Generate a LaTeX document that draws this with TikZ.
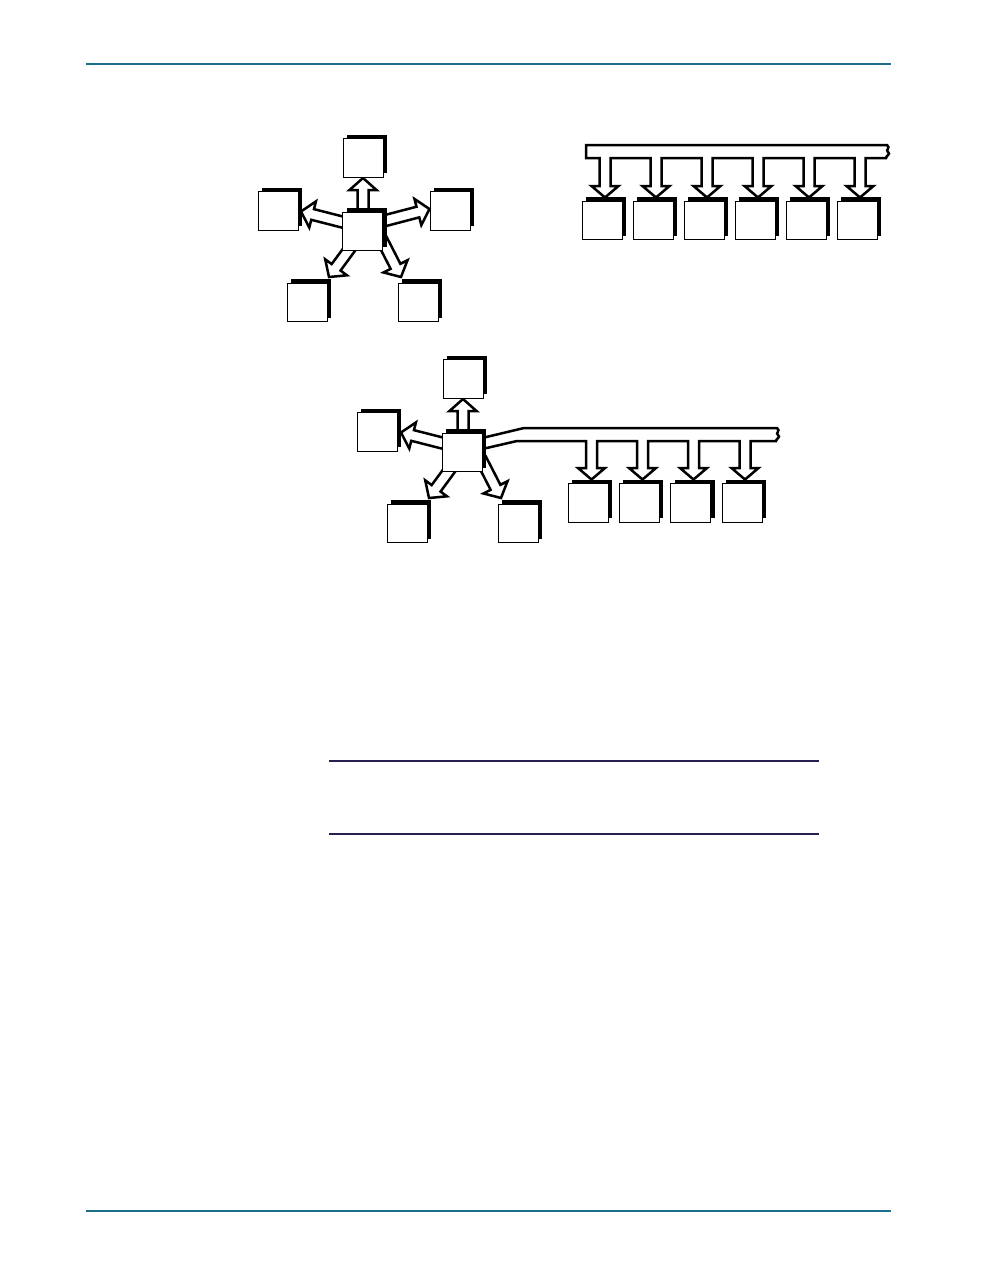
\documentclass[tikz,border=0pt]{standalone}
\usetikzlibrary{calc,shadows}
\definecolor{tealrule}{HTML}{1D6E8A}
\definecolor{navyrule}{HTML}{25204F}
\tikzset{
  unitbox/.style={draw=black, line width=0.9pt, fill=white, minimum width=40pt,
    minimum height=38.5pt, inner sep=0pt,
    drop shadow={shadow xshift=4pt, shadow yshift=4pt, opacity=1, fill=black}},
  blockarr/.style={draw=black, fill=white, line width=2.5pt, line join=miter, miter limit=10},
  busline/.style={draw=black, fill=white, line width=2.5pt, line join=miter, miter limit=10},
  pagerule/.style={draw=tealrule, line width=1.5pt},
  tablerule/.style={draw=navyrule, line width=1.2pt}
}
\newcommand\blockarrow[2]{%
  \coordinate (ba-h) at ($(#2)!12pt!(#1)$);
  \draw[blockarr] ($(#1)!5.5pt!90:(#2)$) -- ($(ba-h)!5.5pt!90:(#2)$) -- ($(ba-h)!13.5pt!90:(#2)$)
    -- (#2) -- ($(ba-h)!13.5pt!-90:(#2)$) -- ($(ba-h)!5.5pt!-90:(#2)$) -- ($(#1)!5.5pt!-90:(#2)$) -- cycle;}
\begin{document}
\begin{tikzpicture}[x=1pt,y=-1pt]
\useasboundingbox[fill=white] (0,0) rectangle (990,1278);
% page rules
\coordinate (tl) at (86,64); \coordinate (tr) at (891,64);
\coordinate (bl) at (86,1211); \coordinate (br) at (891,1211);
\draw[pagerule] (tl) -- (tr);
\draw[pagerule] (bl) -- (br);
\coordinate (m1l) at (329,761); \coordinate (m1r) at (819,761);
\coordinate (m2l) at (329,834); \coordinate (m2r) at (819,834);
\draw[tablerule] (m1l) -- (m1r);
\draw[tablerule] (m2l) -- (m2r);

% ---------- star 1 ----------
\coordinate (s1up) at (363,220);   \coordinate (s1upt) at (363,178);
\coordinate (s1lf) at (350,224);   \coordinate (s1lft) at (301,211.5);
\coordinate (s1rt) at (376,223);   \coordinate (s1rtt) at (429.5,209);
\coordinate (s1bl) at (352.5,245); \coordinate (s1blt) at (329,277);
\coordinate (s1br) at (381,238);   \coordinate (s1brt) at (401,277);
\blockarrow{s1up}{s1upt}
\blockarrow{s1lf}{s1lft}
\blockarrow{s1rt}{s1rtt}
\blockarrow{s1bl}{s1blt}
\blockarrow{s1br}{s1brt}
\node[unitbox] (t1) at (363,158) {};
\node[unitbox] (c1) at (362.5,231.5) {};
\node[unitbox] (l1) at (278,211) {};
\node[unitbox] (r1) at (450,211) {};
\node[unitbox] (bl1) at (307,302.5) {};
\node[unitbox] (br1) at (418,302.5) {};

% ---------- bus 1 ----------
\draw[busline] (586,145) -- (887,145)
  .. controls (891,148) and (885,150) .. (888,152)
  .. controls (891,154) and (886,156) .. (886,158)
  foreach \c in {860,809,758,707,656,605} {
    -- ({\c+5.5},158) -- ({\c+5.5},186) -- ({\c+13.5},186) -- (\c,197.5)
    -- ({\c-13.5},186) -- ({\c-5.5},186) -- ({\c-5.5},158) }
  -- (586,158) -- cycle;
\foreach \i/\x in {1/602,2/653,3/704,4/755,5/806,6/857}
  \node[unitbox] (d1\i) at (\x,220.5) {};

% ---------- star 2 ----------
\coordinate (s2up) at (463,441);   \coordinate (s2upt) at (463,399);
\coordinate (s2lf) at (450,445);   \coordinate (s2lft) at (401,432.5);
\coordinate (s2bl) at (452.5,466); \coordinate (s2blt) at (429,498);
\coordinate (s2br) at (481,459);   \coordinate (s2brt) at (501,498);
\blockarrow{s2up}{s2upt}
\blockarrow{s2lf}{s2lft}
\blockarrow{s2bl}{s2blt}
\blockarrow{s2br}{s2brt}

% ---------- bus 2 ----------
\draw[busline] (478,439) -- (524,428) -- (777,428)
  .. controls (781,431) and (775,433) .. (778,435)
  .. controls (781,437) and (776,439) .. (776,441)
  foreach \c in {745,693.5,642.5,591.5} {
    -- ({\c+5.5},441) -- ({\c+5.5},468) -- ({\c+13.5},468) -- (\c,479.5)
    -- ({\c-13.5},468) -- ({\c-5.5},468) -- ({\c-5.5},441) }
  -- (517,441) -- (478,450);

\node[unitbox] (t2) at (463,379) {};
\node[unitbox] (c2) at (462,452.5) {};
\node[unitbox] (l2) at (377,432) {};
\node[unitbox] (bl2) at (407,523.5) {};
\node[unitbox] (br2) at (518,523.5) {};
\foreach \i/\x in {1/588,2/639.3,3/690.7,4/742}
  \node[unitbox] (d2\i) at (\x,503) {};
\end{tikzpicture}
\end{document}
